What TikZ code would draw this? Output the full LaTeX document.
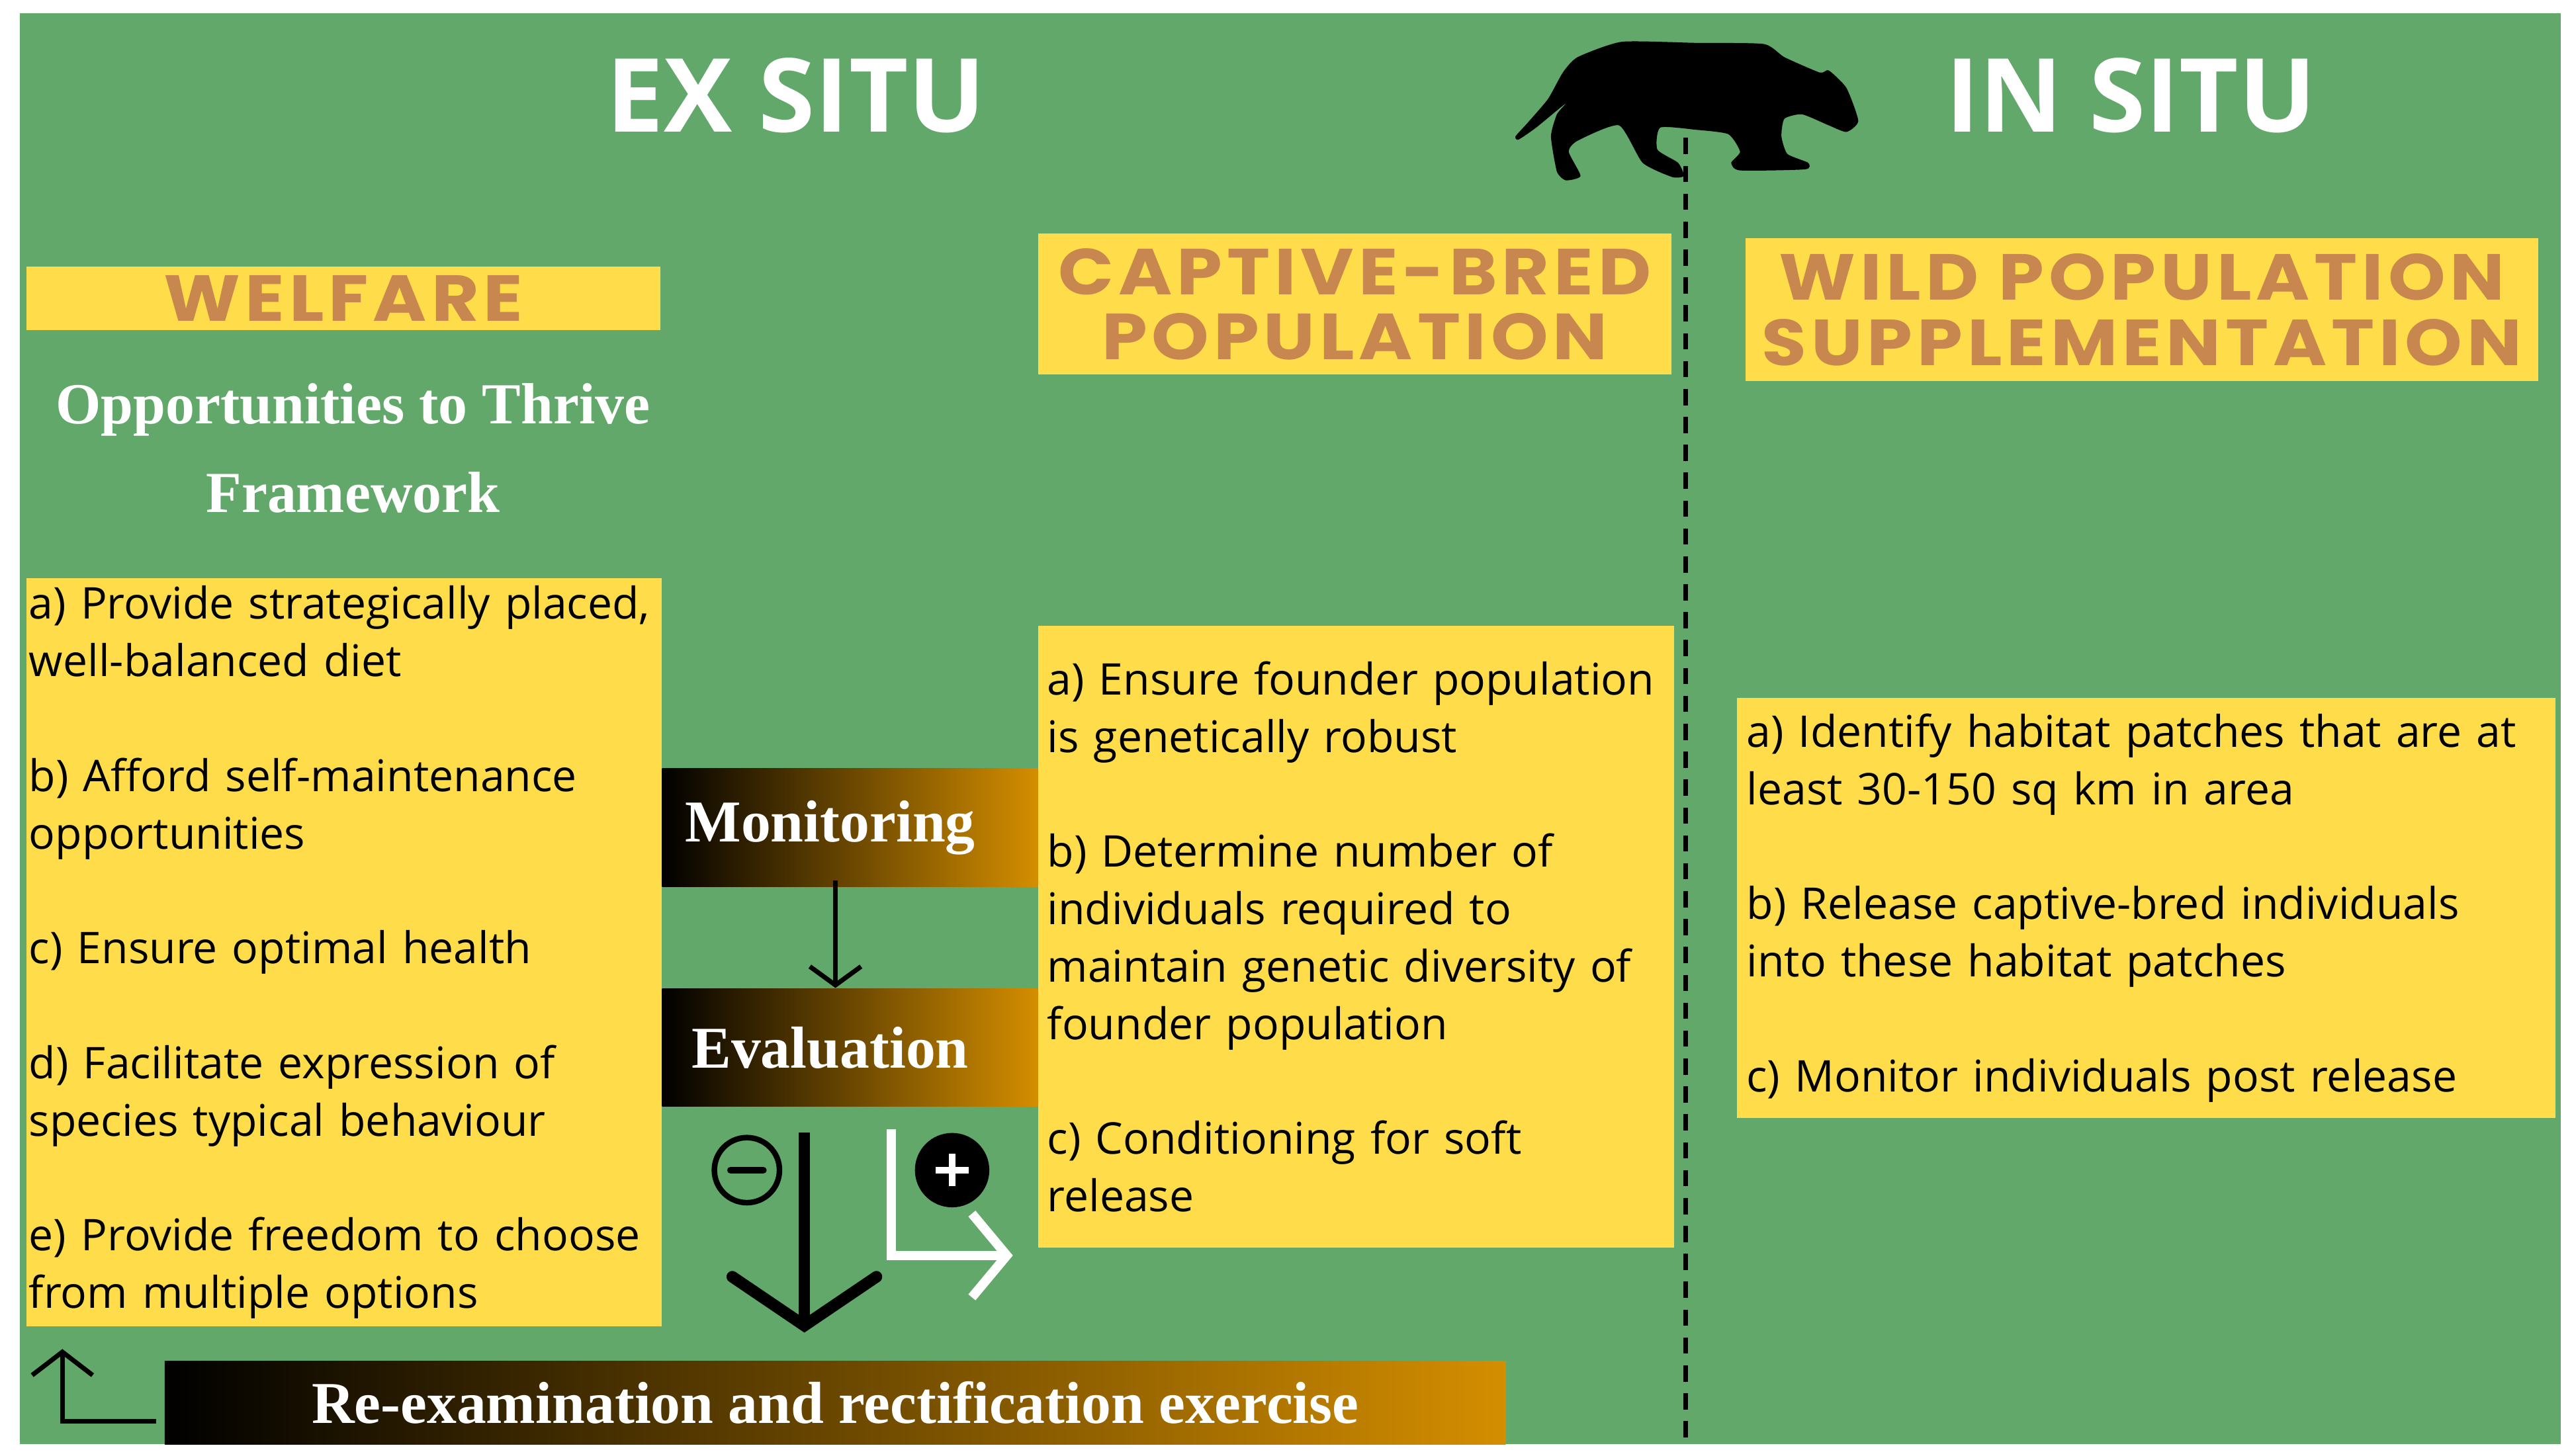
\documentclass[tikz,border=0pt]{standalone}
\usepackage{fontspec}
\setmainfont{Open Sans}
\newfontfamily\headfont[LetterSpace=7, FakeStretch=1.12]{Poppins}
\newfontfamily\barfont{Liberation Serif}
\usetikzlibrary{positioning, arrows.meta, shapes.geometric}

\begin{document}
\begin{tikzpicture}[
    x=0.02481cm, y=-0.02481cm,
    >=Stealth,
    yellowbox/.style={rectangle, fill=boxyellow, inner sep=0pt, anchor=north west},
    headbox/.style={yellowbox, font=\headfont\bfseries\fontsize{28}{28}\selectfont,
        text=headbrown, align=center},
    listbox/.style={yellowbox, font=\fontsize{18.8}{24.7}\selectfont, align=left,
        text=black, inner xsep=4pt},
    gradbar/.style={rectangle, left color=black, right color=barorange, inner sep=0pt,
        anchor=north west, font=\barfont\bfseries\fontsize{25.5}{28}\selectfont, text=white},
    sidetitle/.style={font=\bfseries\fontsize{44}{48}\selectfont, text=white},
]

% ── Colors ──
\definecolor{bggreen}{HTML}{63A86B}
\definecolor{boxyellow}{HTML}{FFDD4A}
\definecolor{headbrown}{HTML}{C8874F}
\definecolor{barorange}{HTML}{D48E00}

% ══════════════════════════════════════════════
% Canvas
% ══════════════════════════════════════════════
\fill[white] (0,0) rectangle (1568,887);
\useasboundingbox (0,0) rectangle (1568,887);
\fill[bggreen] (12,8) rectangle (1560,880);

% ══════════════════════════════════════════════
% Titles and cat
% ══════════════════════════════════════════════
\node[sidetitle] (exsitu) at (485,58) {EX SITU};
\node[sidetitle] (insitu) at (1298,58) {IN SITU};

\begin{scope}[shift={(907,0)}, xscale=0.18, yscale=0.134]
\fill[black] plot[smooth cycle, tension=0.35] coordinates {
    (90,620) (130,560) (200,450) (250,330) (300,260) (450,190) (700,195) (930,200)
    (1000,260) (1120,330) (1150,320) (1210,400) (1250,550) (1210,600) (1150,570)
    (1060,520) (1000,540) (990,620) (1010,700) (1080,740) (1070,770) (850,775)
    (820,740) (850,690) (810,610) (700,590) (580,580) (570,680) (640,740) (660,800)
    (620,805) (520,740) (440,570) (300,640) (270,690) (310,800) (260,820) (230,780)
    (210,620) (230,520) (260,470) (160,580) (100,635)};
\end{scope}

\coordinate (divtop) at (1027,84);
\coordinate (divbot) at (1027,880);
\draw[line width=2pt, dash pattern=on 7pt off 5pt] (divtop) -- (divbot);

% ══════════════════════════════════════════════
% Welfare column
% ══════════════════════════════════════════════
\node[headbox, minimum width=386*0.02481cm, minimum height=39*0.02481cm]
    (welfare) at (16,162) {WELFARE};
\node[font=\barfont\bfseries\fontsize{25}{38}\selectfont, text=white, align=center]
    (otf) at (215,273) {Opportunities to Thrive\\Framework};
\node[listbox, text width=384*0.02481cm, minimum width=386*0.02481cm,
    minimum height=456*0.02481cm, inner xsep=1pt] (welfarelist) at (16,352)
    {a) Provide strategically placed,\\well-balanced diet\\[24.7pt]
     b) Afford self-maintenance\\opportunities\\[24.7pt]
     c) Ensure optimal health\\[24.7pt]
     d) Facilitate expression of\\species typical behaviour\\[24.7pt]
     e) Provide freedom to choose\\from multiple options};

% ══════════════════════════════════════════════
% Monitoring / Evaluation
% ══════════════════════════════════════════════
\node[gradbar, minimum width=229*0.02481cm, minimum height=72*0.02481cm]
    (monitor) at (403,468) {Monitoring\hspace*{0.6cm}};
\node[gradbar, minimum width=229*0.02481cm, minimum height=72*0.02481cm]
    (evaluate) at (403,602) {Evaluation\hspace*{0.6cm}};
\draw[-{Straight Barb[length=8pt, width=22pt]}, line width=2pt]
    ([xshift=-0.22cm]monitor.south) ++(0,-4) -- ([xshift=-0.22cm]evaluate.north);

\node[circle, draw=black, line width=2.4pt, minimum size=28pt, inner sep=0pt]
    (minus) at (455,713) {};
\draw[line width=3pt, line cap=round] ([xshift=-7pt]minus.center) -- ([xshift=7pt]minus.center);
\node[circle, fill=black, minimum size=32pt, inner sep=0pt] (plus) at (580,713) {};
\draw[white, line width=3pt] ([xshift=-7pt]plus.center) -- ([xshift=7pt]plus.center)
    ([yshift=-7pt]plus.center) -- ([yshift=7pt]plus.center);

\coordinate (negtop) at (490,690);
\coordinate (negend) at (490,812);
\draw[-{Straight Barb[length=21pt, width=62pt, line cap=round]}, line width=5pt]
    (negtop) -- (negend);
\coordinate (postop) at (543,688);
\coordinate (posend) at (617,765);
\draw[white, -{Straight Barb[length=15pt, width=36pt]}, line width=4pt]
    (postop) |- (posend);

% ══════════════════════════════════════════════
% Captive-bred column
% ══════════════════════════════════════════════
\node[headbox, minimum width=386*0.02481cm, minimum height=86*0.02481cm]
    (captivehead) at (632,142) {CAPTIVE-BRED\\POPULATION};
\node[listbox, text width=376*0.02481cm, minimum width=384*0.02481cm,
    minimum height=379*0.02481cm] (captivelist) at (632,381)
    {a) Ensure founder population\\is genetically robust\\[24.7pt]
     b) Determine number of\\individuals required to\\maintain genetic diversity of\\founder population\\[24.7pt]
     c) Conditioning for soft\\release};

% ══════════════════════════════════════════════
% Wild column
% ══════════════════════════════════════════════
\node[headbox, minimum width=483*0.02481cm, minimum height=87*0.02481cm]
    (wildhead) at (1063,145) {WILD POPULATION\\SUPPLEMENTATION};
\node[listbox, text width=487*0.02481cm, minimum width=495*0.02481cm,
    minimum height=256*0.02481cm] (wildlist) at (1058,425)
    {a) Identify habitat patches that are at\\least 30-150 sq km in area\\[24.7pt]
     b) Release captive-bred individuals\\into these habitat patches\\[24.7pt]
     c) Monitor individuals post release};

% ══════════════════════════════════════════════
% Re-examination bar
% ══════════════════════════════════════════════
\node[gradbar, minimum width=817*0.02481cm, minimum height=51*0.02481cm]
    (reexam) at (100,829) {Re-examination and rectification exercise};
\coordinate (retstart) at (95,866);
\coordinate (rettip) at (38,822);
\draw[-{Straight Barb[length=10pt, width=26pt]}, line width=2pt]
    (retstart) -| (rettip);

\end{tikzpicture}
\end{document}
